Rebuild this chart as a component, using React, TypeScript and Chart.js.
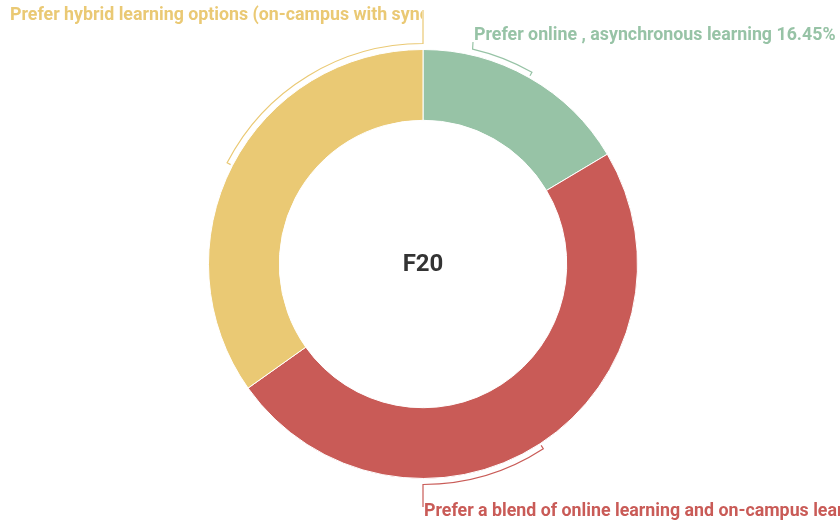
import React, { useEffect, useRef } from "react";
import { Chart, registerables } from "chart.js";

Chart.register(...registerables);

const categories = [
  "Prefer online , asynchronous learning",
  "Prefer a blend of online learning and on-campus learning",
  "Prefer hybrid learning options (on-campus with synchronous online sessions)",
];
const values = [16.45, 48.73, 34.82];
const colors = ["#97c3a6", "#c95b57", "#eac974"];
const centerTitle = "F20";

// label layout (presentation only)
const labelLayout = [
  { anchorDeg: 13, endX: 473, endY: 42, textX: 474, textY: 36, clipRight: 840 },
  { anchorDeg: 180, endX: 423, endY: 507, textX: 424, textY: 512, clipRight: 840 },
  { anchorDeg: 360, endX: 423, endY: 10, textX: 10, textY: 16, clipRight: 422 },
];

const labelPlugin = {
  id: "bracketLabels",
  afterDraw(chart: any) {
    const ctx = chart.ctx;
    const meta = chart.getDatasetMeta(0);
    ctx.save();
    meta.data.forEach((arc: any, i: number) => {
      const { x, y, startAngle, endAngle, outerRadius } = arc.getProps(
        ["x", "y", "startAngle", "endAngle", "outerRadius"],
        true
      );
      const lay = labelLayout[i];
      const mid = (startAngle + endAngle) / 2;
      const anchor = (lay.anchorDeg * Math.PI) / 180 - Math.PI / 2;
      const rb = outerRadius + 6;
      const rt = outerRadius + 2;
      ctx.strokeStyle = colors[i];
      ctx.lineWidth = 1.2;
      ctx.beginPath();
      ctx.moveTo(x + rt * Math.cos(mid), y + rt * Math.sin(mid));
      ctx.lineTo(x + rb * Math.cos(mid), y + rb * Math.sin(mid));
      ctx.arc(x, y, rb, mid, anchor, anchor < mid);
      ctx.lineTo(lay.endX, lay.endY);
      ctx.stroke();

      ctx.save();
      ctx.beginPath();
      ctx.rect(0, 0, lay.clipRight, chart.height);
      ctx.clip();
      ctx.fillStyle = colors[i];
      ctx.font = "bold 17.8px Roboto";
      ctx.textAlign = "left";
      ctx.textBaseline = "middle";
      ctx.fillText(`${categories[i]} ${values[i]}%`, lay.textX, lay.textY);
      ctx.restore();
    });
    const a0 = meta.data[0];
    ctx.fillStyle = "#333333";
    ctx.font = "bold 24px Roboto";
    ctx.textAlign = "center";
    ctx.textBaseline = "middle";
    ctx.fillText(centerTitle, a0.x, a0.y + 1);
    ctx.restore();
  },
};

export default function App() {
  const ref = useRef<HTMLCanvasElement>(null);
  useEffect(() => {
    document.body.style.margin = "0";
    const chart = new Chart(ref.current!, {
      type: "doughnut",
      data: {
        labels: categories,
        datasets: [
          {
            data: values,
            backgroundColor: colors,
            borderColor: "#ffffff",
            borderWidth: 1,
            hoverOffset: 0,
          },
        ],
      },
      options: {
        responsive: false,
        animation: false,
        cutout: "67%",
        layout: { padding: { top: 49, bottom: 48, left: 150, right: 144 } },
        plugins: { legend: { display: false }, tooltip: { enabled: false } },
      },
      plugins: [labelPlugin],
    });
    return () => chart.destroy();
  }, []);
  return (
    <div style={{ position: "absolute", left: 0, top: 0, width: 840, height: 527, background: "#fff" }}>
      <canvas ref={ref} width={840} height={527} />
    </div>
  );
}
